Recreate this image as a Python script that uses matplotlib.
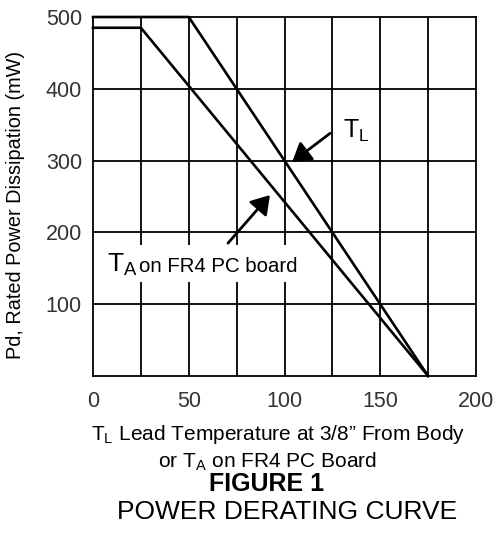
import matplotlib
matplotlib.use("Agg")
import matplotlib.pyplot as plt

plt.rcParams['font.family'] = ['Liberation Sans', 'DejaVu Sans']
plt.rcParams['mathtext.fontset'] = 'custom'
plt.rcParams['mathtext.rm'] = 'Liberation Sans'

# derating curves (temperature in C, power in mW)
temp_lead = [0, 50, 175]
power_lead = [500, 500, 0]
temp_board = [0, 25, 175]
power_board = [485, 485, 0]

x_ticks = [0, 50, 100, 150, 200]
y_ticks = [100, 200, 300, 400, 500]
x_grid = [25, 50, 75, 100, 125, 150, 175]
y_grid = [100, 200, 300, 400]

W, H = 499, 535
fig = plt.figure(figsize=(W / 100, H / 100), dpi=100)
ax = fig.add_axes([93 / W, 1 - 376 / H, (476 - 93) / W, (376 - 17) / H])


def px(x, y):  # pixel position -> figure fraction
    return x / W, 1 - y / H


ax.set_xlim(0, 200)
ax.set_ylim(0, 500)
for g in x_grid:
    ax.axvline(g, color='black', lw=1.3, zorder=1)
for g in y_grid:
    ax.axhline(g, color='black', lw=1.3, zorder=1)
for s in ax.spines.values():
    s.set_linewidth(1.3)

ax.plot(temp_lead, power_lead, color='black', lw=1.9, zorder=3, clip_on=False)
ax.plot(temp_board, power_board, color='black', lw=1.9, zorder=3, clip_on=False)

ax.set_xticks(x_ticks)
ax.set_yticks(y_ticks)
ax.tick_params(length=0, labelsize=15.5, labelcolor='#333333')
ax.tick_params(axis='x', pad=11)
ax.tick_params(axis='y', pad=8)

fig.text(16 / W, 1 - 205 / H, 'Pd, Rated Power Dissipation (mW)', rotation=90,
         ha='center', va='center', fontsize=14.3)

# T_L annotation
ax.annotate('', xy=(104, 298), xytext=(123.8, 338),
            arrowprops=dict(arrowstyle='-|>,head_length=0.55,head_width=0.35',
                            mutation_scale=20, color='black', lw=2,
                            shrinkA=0, shrinkB=0), zorder=4)
fig.text(*px(343, 138), r'T$_\mathregular{L}$', fontsize=18, va='baseline')

# T_A annotation
ax.annotate('', xy=(92.4, 252), xytext=(70.5, 185),
            arrowprops=dict(arrowstyle='-|>,head_length=0.55,head_width=0.35',
                            mutation_scale=20, color='black', lw=2,
                            shrinkA=0, shrinkB=0), zorder=4)
box = plt.Rectangle(px(104, 282), 198 / W, 37 / H, transform=fig.transFigure,
                    facecolor='white', edgecolor='none', zorder=2)
fig.add_artist(box)
fig.text(*px(107, 272), r'T$_\mathregular{A}$', fontsize=19, va='baseline', zorder=5)
fig.text(*px(139, 272), 'on FR4 PC board', fontsize=14.7, va='baseline', zorder=5)

# caption
fig.text(*px(278, 440), 'T$_\\mathregular{L}$ Lead Temperature at 3/8\u201d From Body',
         fontsize=15, ha='center', va='baseline')
fig.text(*px(267.5, 467), r'or T$_\mathregular{A}$ on FR4 PC Board',
         fontsize=15, ha='center', va='baseline')
fig.text(*px(266.5, 491), 'FIGURE 1', fontsize=18, fontweight='bold',
         ha='center', va='baseline')
fig.text(*px(287, 519), 'POWER DERATING CURVE', fontsize=19,
         ha='center', va='baseline')

fig.savefig('out.png', dpi=100)
